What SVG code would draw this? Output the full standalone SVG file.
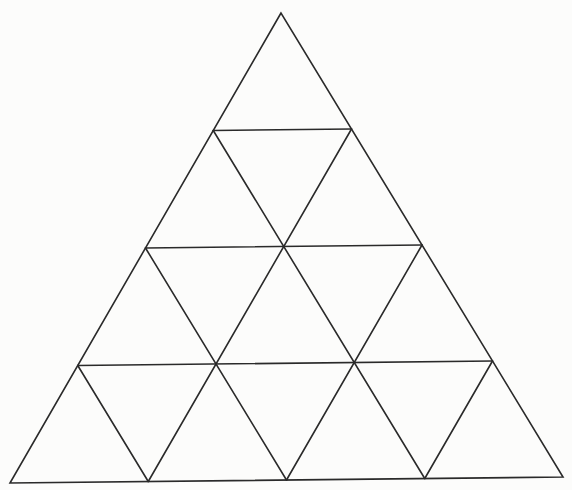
<svg xmlns="http://www.w3.org/2000/svg" width="572" height="490" viewBox="0 0 572 490">
<style>
.l{stroke:#2a2a2a;stroke-width:1.6;fill:none;stroke-linejoin:miter;stroke-linecap:round}
</style>
<rect width="572" height="490" fill="#fcfcfb"/>
<g id="triangle">
<polygon class="l" points="281,13 10,483 563,477"/>
</g>
<g id="grid">
<line class="l" x1="213.25" y1="130.5" x2="351.5" y2="129"/>
<line class="l" x1="145.5" y1="248" x2="422" y2="245"/>
<line class="l" x1="77.75" y1="365.5" x2="492.5" y2="361"/>
<line class="l" x1="351.5" y1="129" x2="148.25" y2="481.5"/>
<line class="l" x1="422" y1="245" x2="286.5" y2="480"/>
<line class="l" x1="492.5" y1="361" x2="424.75" y2="478.5"/>
<line class="l" x1="213.25" y1="130.5" x2="424.75" y2="478.5"/>
<line class="l" x1="145.5" y1="248" x2="286.5" y2="480"/>
<line class="l" x1="77.75" y1="365.5" x2="148.25" y2="481.5"/>
</g>
</svg>
